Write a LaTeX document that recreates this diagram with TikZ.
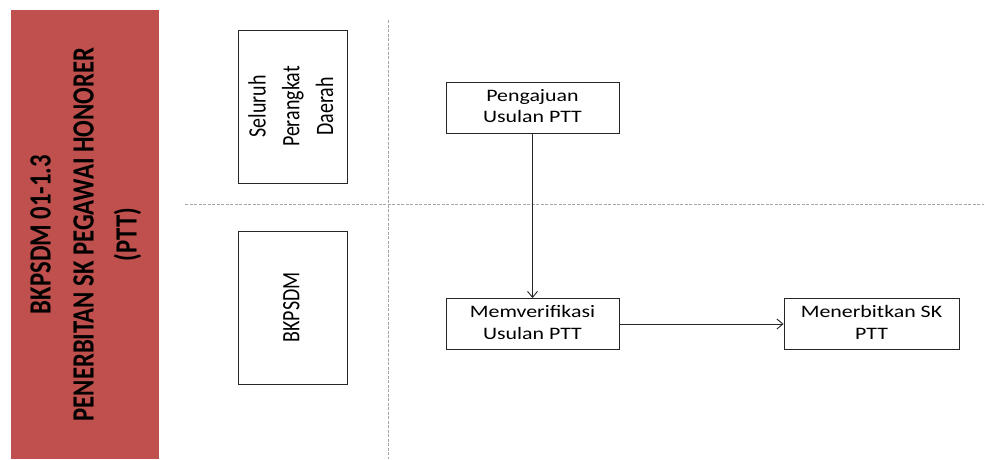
\documentclass[tikz,border=0pt]{standalone}
\usepackage{fontspec}
\setmainfont{Carlito}
\usepackage{graphicx}
\usepackage{tikz}
\usetikzlibrary{arrows.meta}

\definecolor{barred}{HTML}{C0504D}
\definecolor{lanegray}{HTML}{A6A6A6}
\definecolor{boxline}{HTML}{262626}

% text looks stretched sideways in the picture
\newcommand{\widetext}[1]{\scalebox{1.25}[1]{\begin{tabular}{@{}c@{}}#1\end{tabular}}}
\newcommand{\uptext}[1]{\rotatebox{90}{\scalebox{1}[1.25]{\begin{tabular}{@{}c@{}}#1\end{tabular}}}}

\begin{document}
\begin{tikzpicture}[x=1pt, y=-1pt]
    \tikzstyle{bar} = [rectangle, fill=barred, inner sep=0pt, minimum width=148pt, minimum height=449pt, font=\fontsize{24.7}{34.4}\selectfont\bfseries]
    \tikzstyle{lane} = [rectangle, draw=boxline, line width=0.9pt, inner sep=0pt, minimum width=109pt, minimum height=153pt, font=\fontsize{20}{27}\selectfont]
    \tikzstyle{task} = [rectangle, draw=boxline, line width=0.9pt, inner sep=0pt, minimum width=173pt, minimum height=51pt, font=\fontsize{17.5}{21.5}\selectfont]
    \tikzstyle{divider} = [lanegray, dashed, dash pattern=on 3pt off 1.5pt, line width=0.8pt]

    \useasboundingbox (0,0) rectangle (984,459);

    \node[bar] (title) at (85, 234.5) {\uptext{BKPSDM 01-1.3\\ PENERBITAN SK PEGAWAI HONORER\\ (PTT)}};

    \draw[divider] (388,20) -- (388,459);
    \draw[divider] (185,204) -- (984,204);

    \node[lane] (opd) at (292.5, 106.5) {\uptext{Seluruh\\ Perangkat\\ Daerah}};
    \node[lane] (bkpsdm) at (292.5, 307.5) {\uptext{BKPSDM}};

    \node[task] (usulan) at (532.5, 107.5) {\widetext{Pengajuan\\ Usulan PTT}};
    \node[task] (verif) at (532.5, 324) {\widetext{Memverifikasi\\ Usulan PTT}};
    \node[task, minimum width=175pt] (terbit) at (871.5, 324) {\widetext{Menerbitkan SK\\ PTT}};

    \foreach \from/\to in {usulan.south/verif.north, verif.east/terbit.west}
    \draw [-{Straight Barb[length=6pt, width=10pt]}, boxline, line width=0.9pt] (\from) -- (\to);
\end{tikzpicture}
\end{document}
